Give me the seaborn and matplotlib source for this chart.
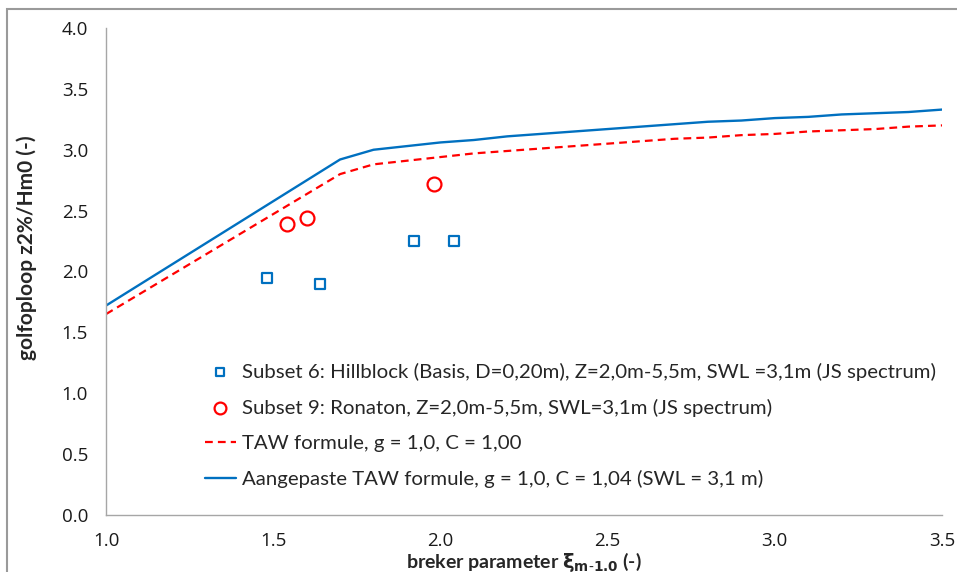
import matplotlib
matplotlib.use("Agg")
import matplotlib.pyplot as plt
import seaborn as sns
import numpy as np
from matplotlib.patches import Rectangle

# ---- data ----
sq_x = [1.48, 1.64, 1.92, 2.04]
sq_y = [1.95, 1.90, 2.25, 2.25]
circ_x = [1.54, 1.60, 1.98]
circ_y = [2.39, 2.44, 2.72]

taw_x = [1.0, 1.7, 1.8, 1.9, 2.0, 2.1, 2.2, 2.3, 2.4, 2.5, 2.6, 2.7, 2.8, 2.9,
         3.0, 3.1, 3.2, 3.3, 3.4, 3.5]
taw_y = [1.65, 2.80, 2.88, 2.91, 2.94, 2.97, 2.99, 3.01, 3.03, 3.05, 3.07, 3.09,
         3.10, 3.12, 3.13, 3.15, 3.16, 3.17, 3.19, 3.20]
adj_y = [1.72, 2.92, 3.00, 3.03, 3.06, 3.08, 3.11, 3.13, 3.15, 3.17, 3.19, 3.21,
         3.23, 3.24, 3.26, 3.27, 3.29, 3.30, 3.31, 3.33]

labels = [
    "Subset 6: Hillblock (Basis, D=0,20m), Z=2,0m-5,5m, SWL =3,1m (JS spectrum)",
    "Subset 9: Ronaton, Z=2,0m-5,5m, SWL=3,1m (JS spectrum)",
    "TAW formule, g = 1,0, C = 1,00",
    "Aangepaste TAW formule, g = 1,0, C = 1,04 (SWL = 3,1 m)",
]
xticks = [1.0, 1.5, 2.0, 2.5, 3.0, 3.5]
yticks = [0.0, 0.5, 1.0, 1.5, 2.0, 2.5, 3.0, 3.5, 4.0]

sns.set_style("white")
plt.rcParams['font.family'] = ['Lato', 'DejaVu Sans']
plt.rcParams['mathtext.fontset'] = 'dejavusans'

BLUE = "#0070C0"
RED = "#FF0000"
GRAY = "#A6A6A6"
TICKFONT = dict(family=['Open Sans', 'DejaVu Sans'], size=13.5)

fig = plt.figure(figsize=(9.57, 5.72), dpi=100)
ax = fig.add_axes([106/957, 1-515/572, 836/957, 487/572])

sns.lineplot(x=taw_x, y=adj_y, ax=ax, color=BLUE, lw=1.7, label=labels[3])
sns.lineplot(x=taw_x, y=taw_y, ax=ax, color=RED, lw=1.6, label=labels[2])
ax.lines[-1].set_dashes([3.5, 2.3])
sns.scatterplot(x=sq_x, y=sq_y, ax=ax, marker='s', s=48, facecolor='white',
                edgecolor=BLUE, linewidth=1.6, label=labels[0], zorder=5)
sns.scatterplot(x=circ_x, y=circ_y, ax=ax, marker='o', s=100, facecolor='white',
                edgecolor=RED, linewidth=1.6, label=labels[1], zorder=5)

ax.set_xlim(1.0, 3.5)
ax.set_ylim(0.0, 4.0)
ax.set_xticks(xticks)
ax.set_yticks(yticks)
ax.set_xticklabels([f"{v:.1f}" for v in xticks], fontdict=TICKFONT, color='#1a1a1a')
ax.set_yticklabels([f"{v:.1f}" for v in yticks], fontdict=TICKFONT, color='#1a1a1a')
ax.tick_params(axis='both', direction='in', length=6, width=1, color=GRAY)
ax.tick_params(axis='x', pad=12)
ax.tick_params(axis='y', pad=13)

for s in ['top', 'right']:
    ax.spines[s].set_visible(False)
for s in ['left', 'bottom']:
    ax.spines[s].set_color(GRAY)
    ax.spines[s].set_linewidth(1)

ax.set_ylabel("golfoploop z2%/Hm0 (-)", fontsize=15, fontweight='bold')
ax.yaxis.set_label_coords(-0.0825, 0.548)
ax.set_xlabel(r"breker parameter $\mathbf{\xi}_{\mathbf{m\text{-}1.0}}$ (-)",
              fontsize=14, fontweight='bold')
ax.xaxis.set_label_coords(0.5, -0.108)
ax.xaxis.label.set_va('baseline')

h, l = ax.get_legend_handles_labels()
order = [l.index(t) for t in labels]
leg = ax.legend([h[i] for i in order], [l[i] for i in order],
                loc='upper left', bbox_to_anchor=(0.118, 0.313), frameon=False,
                fontsize=14.7, labelspacing=0.88, handlelength=1.55,
                handletextpad=0.3, borderaxespad=0, borderpad=0, markerscale=0.85)

fig.patches.append(Rectangle((7/957, -0.1), 1.2, 1-9/572+0.1, transform=fig.transFigure,
                             fill=False, edgecolor='#9a9a9a', lw=1.5, zorder=0))

fig.savefig("out.png", dpi=100, facecolor='white')
